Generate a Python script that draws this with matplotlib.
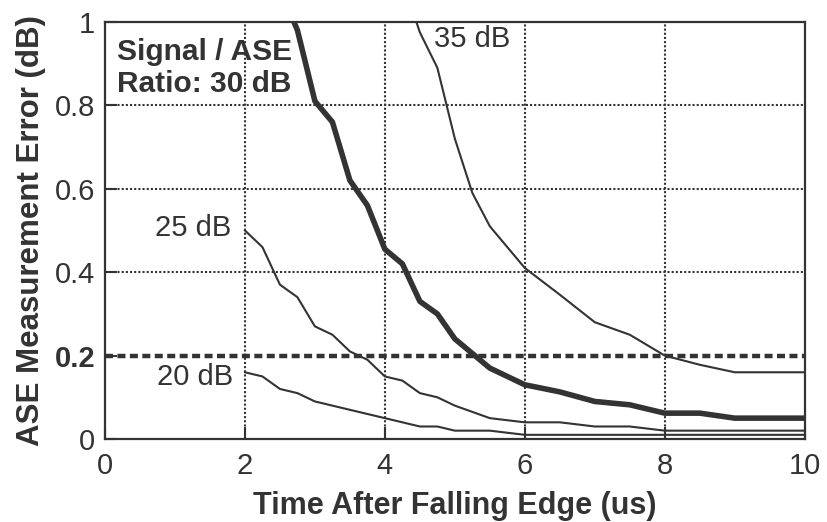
import matplotlib
matplotlib.use('Agg')
import matplotlib.pyplot as plt

# curves
x20 = [2.0, 2.25, 2.5, 2.75, 3.0, 3.25, 3.5, 3.75, 4.0, 4.25, 4.5, 4.75, 5.0, 5.5, 6.0, 10.0]
y20 = [0.16, 0.15, 0.12, 0.11, 0.09, 0.08, 0.07, 0.06, 0.05, 0.04, 0.03, 0.03, 0.02, 0.02, 0.01, 0.01]

x25 = [2.0, 2.25, 2.5, 2.75, 3.0, 3.25, 3.5, 3.75, 4.0, 4.25, 4.5, 4.75, 5.0, 5.5, 6.0, 6.5, 7.0, 7.5, 8.0, 10.0]
y25 = [0.50, 0.46, 0.37, 0.34, 0.27, 0.25, 0.21, 0.19, 0.15, 0.14, 0.11, 0.10, 0.08, 0.05, 0.04, 0.04, 0.03, 0.03, 0.02, 0.02]

x30 = [2.7, 2.75, 3.0, 3.25, 3.5, 3.75, 4.0, 4.25, 4.5, 4.75, 5.0, 5.25, 5.5, 6.0, 6.5, 7.0, 7.5, 8.0, 8.5, 9.0, 10.0]
y30 = [1.0, 0.98, 0.81, 0.76, 0.62, 0.56, 0.455, 0.42, 0.33, 0.30, 0.24, 0.205, 0.17, 0.13, 0.113, 0.09, 0.082, 0.062, 0.062, 0.05, 0.05]

x35 = [4.45, 4.5, 4.75, 5.0, 5.25, 5.5, 6.0, 6.5, 7.0, 7.5, 8.0, 8.5, 9.0, 10.0]
y35 = [1.0, 0.975, 0.89, 0.72, 0.59, 0.51, 0.41, 0.346, 0.28, 0.25, 0.20, 0.178, 0.16, 0.16]

threshold = 0.2
xticks = [0, 2, 4, 6, 8, 10]
yticks = [0, 0.2, 0.4, 0.6, 0.8, 1]
ytick_labels = ['0', '0.2', '0.4', '0.6', '0.8', '1']

plt.rcParams['font.family'] = ['Liberation Sans', 'DejaVu Sans']

ink = '#333333'

fig = plt.figure(figsize=(8.27, 5.22), dpi=100)
ax = fig.add_axes([0.127, 0.159, 0.846, 0.799])

for gx in xticks[1:-1]:
    ax.axvline(gx, color=ink, lw=1.5, ls=(0, (1, 1)), zorder=1)
for gy in yticks[2:-1]:
    ax.axhline(gy, color=ink, lw=1.5, ls=(0, (1, 1)), zorder=1)
ax.axhline(threshold, color=ink, lw=3.2, ls=(0, (1.8, 1.0)), zorder=2)

ax.plot(x20, y20, color=ink, lw=1.5, zorder=3)
ax.plot(x25, y25, color=ink, lw=1.5, zorder=3)
ax.plot(x35, y35, color=ink, lw=1.5, zorder=3)
ax.plot(x30, y30, color=ink, lw=4, zorder=4)

ax.set_xlim(0, 10)
ax.set_ylim(0, 1)
ax.set_xticks(xticks)
ax.set_yticks(yticks)
ax.set_yticklabels(ytick_labels)
ax.get_yticklabels()[1].set_fontweight('bold')
ax.tick_params(direction='in', length=8.5, width=1.5, color=ink, labelsize=21,
               labelcolor=ink)
ax.tick_params(axis='y', pad=7)
ax.tick_params(axis='x', pad=9)
for s in ax.spines.values():
    s.set_color(ink)
    s.set_linewidth(1.6)

ax.set_xlabel('Time After Falling Edge (us)', fontsize=22, fontweight='bold', color=ink, labelpad=8)
ax.set_ylabel('ASE Measurement Error (dB)', fontsize=22.5, fontweight='bold', color=ink, labelpad=6)

ax.text(0.17, 0.962, 'Signal / ASE\nRatio: 30 dB', fontsize=21.5, fontweight='bold', color=ink,
        va='top', ha='left', linespacing=1.2)
ax.text(4.7, 0.958, '35 dB', fontsize=21, color=ink, va='center', ha='left')
ax.text(1.8, 0.507, '25 dB', fontsize=21, color=ink, va='center', ha='right')
ax.text(1.83, 0.149, '20 dB', fontsize=21, color=ink, va='center', ha='right')

fig.savefig('out.png', dpi=100)
